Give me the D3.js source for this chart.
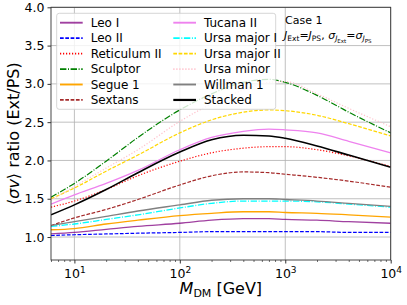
<!DOCTYPE html>
<html><head><meta charset="utf-8">
<script src="https://cdn.jsdelivr.net/npm/d3@7"></script>
<style>
body{margin:0;background:#fff;}
text{font-family:"DejaVu Sans",sans-serif;fill:#000;}
</style></head>
<body><svg id="c" width="407" height="305"></svg>
<script>
const masses = [6, 10, 20, 40, 100, 200, 400, 700, 1000, 2000, 4000, 10000];
const leoI      = [1.04, 1.06, 1.10, 1.14, 1.18, 1.22, 1.24, 1.24, 1.23, 1.22, 1.20, 1.18];
const leoII     = [1.02, 1.03, 1.04, 1.05, 1.06, 1.07, 1.07, 1.07, 1.07, 1.07, 1.06, 1.06];
const reticulum = [1.39, 1.47, 1.62, 1.80, 1.99, 2.10, 2.16, 2.18, 2.18, 2.14, 2.06, 1.92];
const sculptor  = [1.52, 1.70, 1.99, 2.30, 2.66, 2.87, 3.02, 3.06, 3.02, 2.85, 2.63, 2.36];
const segue     = [1.095, 1.11, 1.17, 1.22, 1.28, 1.31, 1.33, 1.33, 1.32, 1.31, 1.29, 1.26];
const sextans   = [1.15, 1.25, 1.36, 1.49, 1.68, 1.80, 1.85, 1.84, 1.82, 1.78, 1.73, 1.65];
const tucana    = [1.43, 1.55, 1.70, 1.87, 2.14, 2.30, 2.38, 2.41, 2.40, 2.36, 2.25, 2.10];
const umaI      = [1.14, 1.17, 1.23, 1.29, 1.38, 1.44, 1.47, 1.47, 1.47, 1.46, 1.43, 1.39];
const umaII     = [1.50, 1.64, 1.86, 2.07, 2.36, 2.53, 2.63, 2.66, 2.65, 2.59, 2.48, 2.32];
const umi       = [1.48, 1.66, 1.90, 2.14, 2.51, 2.74, 2.92, 3.02, 3.03, 2.87, 2.68, 2.44];
const willman   = [1.15, 1.20, 1.27, 1.34, 1.42, 1.48, 1.50, 1.50, 1.49, 1.47, 1.44, 1.40];
const stacked   = [1.29, 1.42, 1.62, 1.84, 2.11, 2.27, 2.33, 2.32, 2.29, 2.19, 2.07, 1.91];
const names = ["Leo I","Leo II","Reticulum II","Sculptor","Segue 1","Sextans","Tucana II","Ursa major I","Ursa major II","Ursa minor","Willman 1","Stacked"];
const yTicks = [1.0, 1.5, 2.0, 2.5, 3.0, 3.5, 4.0];
const xTicks = [10, 100, 1000, 10000];

const seriesVals = [leoI, leoII, reticulum, sculptor, segue, sextans, tucana, umaI, umaII, umi, willman, stacked];
const styles = [
 {c:"#800080", d:null, w:1.3, o:0.75},
 {c:"#0000ff", d:"3.7,1.6", w:1.2, o:1},
 {c:"#ff0000", d:"1.2,1.8", w:1.2, o:1},
 {c:"#008000", d:"6.4,1.6,1,1.6", w:1.2, o:1},
 {c:"#ffa500", d:null, w:1.3, o:1},
 {c:"#a52a2a", d:"3.7,1.6", w:1.2, o:1},
 {c:"#ee82ee", d:null, w:1.3, o:1},
 {c:"#00ffff", d:"6.4,1.6,1,1.6", w:1.3, o:1},
 {c:"#ffd700", d:"3.7,1.6", w:1.2, o:1},
 {c:"#ffc0cb", d:"1.2,1.8", w:1.2, o:1},
 {c:"#808080", d:null, w:1.3, o:1},
 {c:"#000000", d:null, w:1.6, o:1}
];

const L=51, R=390.7, T=7.3, B=260;
const svg = d3.select("#c");
const x = d3.scaleLog().domain([6, 10000]).range([L, R]);
const y = d3.scaleLinear().domain([0.7, 4.0]).range([B, T]);

// grid
const g = svg.append("g");
g.selectAll("line.gx").data(xTicks).join("line")
 .attr("x1", d=>x(d)).attr("x2", d=>x(d)).attr("y1", T).attr("y2", B)
 .attr("stroke", "#b0b0b0").attr("stroke-width", 0.8);
g.selectAll("line.gy").data(yTicks).join("line")
 .attr("x1", L).attr("x2", R).attr("y1", d=>y(d)).attr("y2", d=>y(d))
 .attr("stroke", "#b0b0b0").attr("stroke-width", 0.8);

// lines
const clip = svg.append("clipPath").attr("id","cp").append("rect")
 .attr("x",L).attr("y",T).attr("width",R-L).attr("height",B-T);
const line = d3.line().x((d,i)=>x(masses[i])).y(d=>y(d)).curve(d3.curveMonotoneX);
const lg = svg.append("g").attr("clip-path","url(#cp)");
seriesVals.forEach((vals,k)=>{
  const s = styles[k];
  lg.append("path").attr("d", line(vals)).attr("fill","none")
    .attr("stroke", s.c).attr("stroke-width", s.w).attr("stroke-opacity", s.o)
    .attr("stroke-dasharray", s.d);
});

// frame
svg.append("rect").attr("x",L).attr("y",T).attr("width",R-L).attr("height",B-T)
 .attr("fill","none").attr("stroke","#333").attr("stroke-width",0.9);

// y axis
const ya = svg.append("g").attr("transform",`translate(${L},0)`)
 .call(d3.axisLeft(y).tickValues(yTicks).tickFormat(d3.format(".1f")).tickSize(3.5).tickPadding(3));
ya.select(".domain").remove();
ya.selectAll("text").style("font-size","12.5px").style("font-family","DejaVu Sans");
ya.selectAll("line").attr("stroke","#333");

// x axis
const minor = [];
[1,10,100,1000].forEach(dec=>{for(let k=2;k<=9;k++){const v=dec*k; if(v>=6 && v<10000) minor.push(v);}});
const xa = svg.append("g").attr("transform",`translate(0,${B})`)
 .call(d3.axisBottom(x).tickValues(xTicks).tickFormat("").tickSize(3.5).tickPadding(3));
xa.select(".domain").remove();
xa.selectAll("line").attr("stroke","#333");
xa.selectAll(".tick").each(function(d){
  const t = d3.select(this).append("text").attr("y", 18).attr("text-anchor","middle")
    .style("font-size","12.5px");
  t.append("tspan").text("10");
  t.append("tspan").attr("dy",-5).style("font-size","9px").text(Math.round(Math.log10(d)));
});
const xm = svg.append("g").attr("transform",`translate(0,${B})`)
 .call(d3.axisBottom(x).tickValues(minor).tickFormat("").tickSize(2));
xm.select(".domain").remove();
xm.selectAll("line").attr("stroke","#333").attr("stroke-width",0.7);

// axis labels
const xl = svg.append("text").attr("x", (L+R)/2).attr("y", 294).attr("text-anchor","middle").style("font-size","16px");
xl.append("tspan").style("font-style","italic").text("M");
xl.append("tspan").attr("dy",3).style("font-size","11px").text("DM");
xl.append("tspan").attr("dy",-3).text(" [GeV]");

const yl = svg.append("text").attr("transform",`translate(19,${(T+B)/2}) rotate(-90)`)
 .attr("text-anchor","middle").style("font-size","16px");
yl.append("tspan").text("\u27E8");
yl.append("tspan").style("font-style","italic").text("\u03C3v");
yl.append("tspan").text("\u27E9 ratio (Ext/PS)");

// legend
const leg = svg.append("g");
leg.append("rect").attr("x",56.7).attr("y",13.3).attr("width",219).attr("height",96)
 .attr("rx",2.5).attr("fill","#fff").attr("fill-opacity",0.8).attr("stroke","#cccccc").attr("stroke-width",0.8);
names.forEach((n,k)=>{
  const col = k<6?0:1, row = k%6;
  const x0 = col===0?60:173.3, yy = 22.7 + row*15.45;
  const s = styles[k];
  leg.append("line").attr("x1",x0).attr("x2",x0+22.7).attr("y1",yy).attr("y2",yy)
    .attr("stroke",s.c).attr("stroke-width",s.w+0.6).attr("stroke-opacity",s.o).attr("stroke-dasharray",s.d);
  leg.append("text").attr("x",x0+30.7).attr("y",yy).attr("dy","0.35em").style("font-size","12px").text(n);
});

// annotation
svg.append("text").attr("x",285).attr("y",24).style("font-size","11px").text("Case 1");
const an = svg.append("text").attr("x",284).attr("y",39).style("font-size","11px");
an.append("tspan").style("font-style","italic").text("J");
an.append("tspan").attr("dy",2).style("font-size","7.5px").text("Ext");
an.append("tspan").attr("dy",-2).text("=");
an.append("tspan").style("font-style","italic").text("J");
an.append("tspan").attr("dy",2).style("font-size","7.5px").text("PS");
an.append("tspan").attr("dy",-2).text(", ");
an.append("tspan").style("font-style","italic").text("\u03C3");
an.append("tspan").attr("dy",2).style("font-size","7.5px").style("font-style","italic").text("J");
an.append("tspan").attr("dy",1.5).style("font-size","5.5px").text("Ext");
an.append("tspan").attr("dy",-3.5).text("=");
an.append("tspan").style("font-style","italic").text("\u03C3");
an.append("tspan").attr("dy",2).style("font-size","7.5px").style("font-style","italic").text("J");
an.append("tspan").attr("dy",1.5).style("font-size","5.5px").text("PS");
</script></body></html>
